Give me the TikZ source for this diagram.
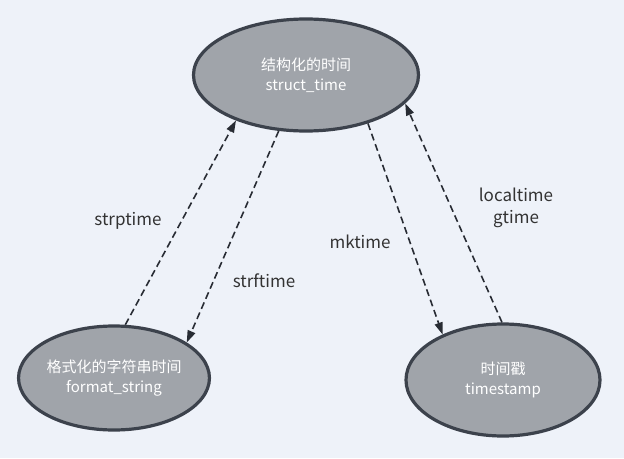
\documentclass[tikz,border=0pt]{standalone}
\usepackage{fontspec}
\setmainfont{Noto Sans CJK SC}
\usepackage{tikz}
\usetikzlibrary{shapes.geometric,arrows.meta,positioning}
\definecolor{tsfond}{RGB}{238,242,249}
\definecolor{tsgris}{RGB}{160,164,170}
\definecolor{tsbord}{RGB}{60,66,76}
\definecolor{tsfleche}{RGB}{40,44,52}
\definecolor{tstexte}{RGB}{51,51,51}

\tikzset{
  etat/.style={ellipse, draw=tsbord, line width=3.2pt, fill=tsgris, inner sep=0pt,
               align=center, text=white, font=\fontsize{15}{20}\selectfont},
  conv/.style={dash pattern=on 7pt off 4pt, line width=1.6pt, draw=tsfleche,
               -{Triangle[length=12pt,width=8pt]}},
  etiq/.style={text=tstexte, font=\fontsize{17}{22}\selectfont, align=center}
}

\begin{document}
\begin{tikzpicture}[x=1pt, y=-1pt]
  \fill[tsfond] (0,0) rectangle (624,458);
  \useasboundingbox (0,0) rectangle (624,458);

  % States
  \node[etat, minimum width=225pt, minimum height=112pt] (struct) at (306,75) {结构化的时间\\struct\_time};
  \node[etat, minimum width=180pt, minimum height=104pt] (fmt) at (114,378) {格式化的字符串时间\\format\_string};
  \node[etat, minimum width=194pt, minimum height=112pt] (stamp) at (503,380) {时间戳\\timestamp};

  % Conversions
  \draw[conv] (fmt.78) -- (struct.213);
  \draw[conv] (struct.244) -- (fmt.26);
  \draw[conv] (struct.322) -- (stamp.143);
  \draw[conv] (stamp.91) -- (struct.344);

  % Labels
  \node[etiq] (lstrp) at (128,221) {strptime};
  \node[etiq] (lstrf) at (264,281) {strftime};
  \node[etiq] (lmk) at (360,242) {mktime};
  \node[etiq] (lloc) at (516,208) {localtime\\gtime};
\end{tikzpicture}
\end{document}
